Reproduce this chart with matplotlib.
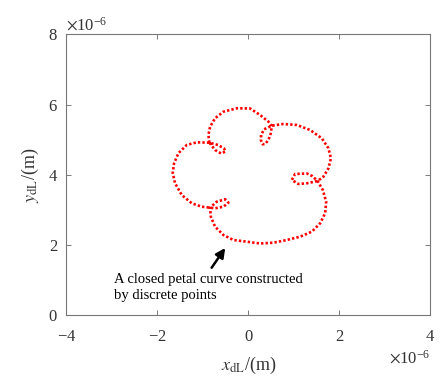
import matplotlib
matplotlib.use('Agg')
import matplotlib.pyplot as plt
from matplotlib.ticker import ScalarFormatter

# puntos (en unidades de 1e-6 m), recorrido en sentido horario
x_um = [-0.857, -0.879, -0.842, -0.732, -0.549, -0.255, 0.037, 0.257, 0.440, 0.514,
        0.492, 0.440, 0.367, 0.316, 0.273, 0.279, 0.345, 0.514,
        0.769, 1.064, 1.356, 1.613, 1.758, 1.813, 1.758, 1.648, 1.521,
        1.284, 1.099, 0.954, 1.026, 1.284, 1.400, 1.521,
        1.635, 1.708, 1.686, 1.576, 1.393, 1.136, 0.844, 0.549, 0.257, -0.035,
        -0.330, -0.549, -0.732, -0.826, -0.842,
        -0.695, -0.512, -0.440, -0.549, -0.732, -0.842,
        -1.024, -1.244, -1.464, -1.611, -1.662, -1.633, -1.538, -1.354, -1.134, -0.857,
        -0.666, -0.534, -0.501, -0.600, -0.732, -0.857]
y_um = [4.916, 5.135, 5.371, 5.610, 5.798, 5.895, 5.889, 5.704, 5.514, 5.391,
        5.183, 4.993, 4.879, 4.871, 4.993, 5.135, 5.297, 5.400,
        5.448, 5.420, 5.277, 5.041, 4.757, 4.472, 4.188, 3.949, 3.826,
        3.761, 3.741, 3.855, 4.026, 4.040, 3.969, 3.826,
        3.570, 3.238, 2.908, 2.623, 2.384, 2.242, 2.148, 2.071, 2.048, 2.100,
        2.148, 2.290, 2.526, 2.811, 3.067,
        3.238, 3.306, 3.209, 3.095, 3.050, 3.067,
        3.095, 3.192, 3.428, 3.761, 4.054, 4.330, 4.615, 4.851, 4.927, 4.916,
        4.850, 4.751, 4.666, 4.609, 4.708, 4.916]

xticks = [-4, -2, 0, 2, 4]
yticks = [0, 2, 4, 6, 8]

plt.rcParams['font.family'] = ['Liberation Serif', 'DejaVu Serif']
plt.rcParams['mathtext.fontset'] = 'stix'
plt.rcParams['axes.unicode_minus'] = False

fig = plt.figure(figsize=(4.4, 3.87), dpi=100)
ax = fig.add_axes([0.1507, 0.1848, 0.8277, 0.7266])

x = [v * 1e-6 for v in x_um]
y = [v * 1e-6 for v in y_um]
ax.plot(x, y, color='red', linewidth=1.9, linestyle=(0, (0.9, 0.8)))

ax.set_xlim(-4e-6, 4e-6)
ax.set_ylim(0, 8e-6)
ax.set_xticks([t * 1e-6 for t in xticks])
ax.set_yticks([t * 1e-6 for t in yticks])

for axis in (ax.xaxis, ax.yaxis):
    fmt = ScalarFormatter(useMathText=True)
    fmt.set_powerlimits((0, 0))
    axis.set_major_formatter(fmt)
    axis.get_offset_text().set_fontsize(12)
    axis.get_offset_text().set_color('#333333')

ax.tick_params(direction='in', length=3.5, width=0.6, colors='#666666',
               labelcolor='#333333', labelsize=12, top=True, right=True)
ax.tick_params(axis='x', pad=10)
ax.tick_params(axis='y', pad=6)
for s in ax.spines.values():
    s.set_color('#777777')
    s.set_linewidth(0.8)

ax.set_xlabel(r'$x_{\mathrm{dL}}$/(m)', fontsize=13, color='#333333', labelpad=7)
ax.set_ylabel(r'$y_{\mathrm{dL}}$/(m)', fontsize=13, color='#333333', labelpad=5)

# flecha y texto de anotacion
ax.annotate('', xy=(-0.475e-6, 1.986e-6), xytext=(-0.842e-6, 1.294e-6),
            arrowprops=dict(arrowstyle='-|>', color='black', lw=1.8, mutation_scale=14))
ax.text(-2.95e-6, 0.805e-6, 'A closed petal curve constructed\nby discrete points',
        fontsize=10.5, ha='left', va='center', linespacing=1.3)

plt.savefig('out.png', dpi=100)
